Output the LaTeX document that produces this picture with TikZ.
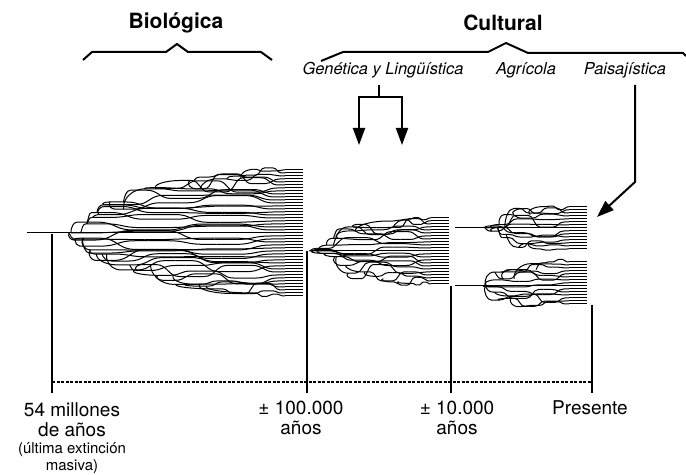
\documentclass[tikz,border=0pt]{standalone}
\usepackage{fontspec}
\setmainfont{TeX Gyre Heros}
\usetikzlibrary{arrows.meta}

% una rama: fila #1 que nace de la fila #2
\newcommand{\ramita}[6]{%
  \pgfmathtruncatemacro{\pp}{#2}
  \pgfmathsetmacro{\dd}{abs(#1-\filc)/\dmx}
  \pgfmathsetmacro{\xst}{#3+(#4-#3)*#6*\dd*\dd+rnd*12}
  \edef\spp{\csname cs\pp\endcsname}
  \edef\ypp{\csname cy\pp\endcsname}
  \pgfmathsetmacro{\xbr}{min(\spp+1+rnd*max(0,\xst-\spp-6),#4-10)}
  \pgfmathsetmacro{\xst}{min(max(\xst,\xbr+5),#4-3)}
  \pgfmathsetmacro{\yi}{#5+#1*\dyf}
  \pgfmathsetmacro{\ls}{max(0,#4-18-\xst)/3}
  \pgfmathsetmacro{\ampx}{min(\amp,0.3*\ls)}
  \pgfmathsetmacro{\yo}{\yi+(2*rnd-1)*\ampx}
  \expandafter\xdef\csname cs#1\endcsname{\xst}
  \expandafter\xdef\csname cy#1\endcsname{\yo}
  \pgfmathsetmacro{\bul}{rnd*9-3}
  \pgfmathsetmacro{\xcu}{\xbr-\bul}
  \pgfmathsetmacro{\xcd}{\xbr+0.4*(\xst-\xbr)}
  \pgfmathsetmacro{\ym}{(\ypp+\yo)/2}
  \draw[rama] (\xbr,\ypp) .. controls (\xcu,\ym) and (\xcd,\yo) .. (\xst,\yo);
  % la linea ondula hasta su fila
  \xdef\ycur{\yo}
  \foreach \j in {1,2,3}{
    \pgfmathsetmacro{\xa}{\xst+(\j-1)*\ls}
    \pgfmathsetmacro{\yb}{ifthenelse(\j<3,\yi+(2*rnd-1)*\ampx,\yi)}
    \draw[rama] (\xa,\ycur) -- ({\xa+0.3*\ls},\ycur) .. controls ({\xa+0.55*\ls},\ycur) and ({\xa+0.55*\ls},\yb) .. ({\xa+0.8*\ls},\yb) -- ({\xa+\ls},\yb);
    \xdef\ycur{\yb}
  }
  \draw[rama] ({max(\xst,#4-18)},\yi) -- (#4,\yi);
}

% un clado: raiz (#1,#2), borde #3, filas de #4 a #5, #6 filas, semilla #7, apertura #8
\newcommand{\clado}[8]{%
  \pgfmathsetseed{#7}
  \pgfmathsetmacro{\dyf}{(#5-#4)/(#6-1)}
  \pgfmathsetmacro{\amp}{2.5*\dyf}
  \pgfmathtruncatemacro{\filc}{round((#2-#4)/\dyf)}
  \pgfmathtruncatemacro{\filu}{\filc-1}
  \pgfmathtruncatemacro{\fild}{\filc+1}
  \pgfmathtruncatemacro{\filn}{#6-1}
  \pgfmathsetmacro{\dmx}{max(\filc,\filn-\filc)}
  \pgfmathsetmacro{\yc}{#4+\filc*\dyf}
  \expandafter\xdef\csname cs\filc\endcsname{#1}
  \expandafter\xdef\csname cy\filc\endcsname{\yc}
  \draw[rama] (#1,\yc) -- (#3,\yc);
  \foreach \i in {\filu,...,0}{\ramita{\i}{min(\i+random(1,3),\filc)}{#1}{#3}{#4}{#8}}
  \foreach \i in {\fild,...,\filn}{\ramita{\i}{max(\i-random(1,3),\filc)}{#1}{#3}{#4}{#8}}
}

\begin{document}
\begin{tikzpicture}[x=0.5pt,y=-0.5pt,
  rama/.style={line width=0.5pt, line join=round},
  vert/.style={line width=0.6pt},
  eje/.style={line width=0.8pt, dash pattern=on 1.5pt off 0.75pt},
  llave/.style={line width=1pt},
  flecha/.style={line width=1pt, -{Triangle[length=8.5pt,width=6pt]}},
  titulo/.style={font=\fontsize{10.5}{12}\selectfont\bfseries},
  grupo/.style={font=\fontsize{8.2}{10}\selectfont\itshape},
  fecha/.style={font=\fontsize{9.5}{10}\selectfont, align=center, inner sep=0pt},
  nota/.style={font=\fontsize{7.5}{8.5}\selectfont, align=center, inner sep=0pt}]
  \useasboundingbox (0,0) rectangle (686,475);

  % titulos y llaves
  \node[titulo] (bio) at (176,23) {Biológica};
  \node[titulo] (cult) at (503,23) {Cultural};
  \draw[llave] (83,60) -- (92,52) -- (166,52) -- (177,44) -- (188,52) -- (261,52) -- (272,60);
  \draw[llave] (321,61) -- (343,52) -- (488,52) -- (506,43) -- (528,53) -- (683,53) -- (686,56);

  % tipos de diversidad cultural
  \node[grupo] (genling) at (383,70) {Genética y Lingüística};
  \node[grupo] (agri) at (526,70) {Agrícola};
  \node[grupo] (paisaj) at (625,70) {Paisajística};

  % flechas
  \coordinate (nudo) at (379,97);
  \coordinate (puntaI) at (359,145);
  \coordinate (puntaD) at (402,145);
  \draw[llave] (nudo |- genling.south) -- (nudo);
  \draw[flecha] (nudo) -| (puntaI);
  \draw[flecha] (nudo) -| (puntaD);
  \coordinate (codo) at (635,182);
  \coordinate (puntaP) at (597,217);
  \draw[flecha] (codo |- paisaj.south) -- (codo) -- (puntaP);

  % arboles
  \draw[rama] (27,233) -- (68,233);
  \clado{68}{233}{303}{170}{296}{43}{11}{0.75}
  \clado{310}{251}{449}{218}{284}{23}{23}{0.65}
  \draw[rama] (455,228) -- (484,228);
  \clado{484}{228}{587}{207}{249}{15}{37}{0.45}
  \draw[rama] (455,286) -- (484,286);
  \clado{484}{286}{587}{262}{304}{15}{41}{0.45}

  % eje del tiempo
  \foreach \nom/\x/\y in {r1/52/234, r2/307/251, r3/451/286, r4/592/305}{
    \coordinate (\nom) at (\x,\y);
    \draw[vert] (\nom) -- (\x,393);
  }
  \coordinate (ejeI) at (52,382);
  \coordinate (ejeD) at (592,382);
  \draw[eje] (ejeI) -- (ejeD);

  \node[fecha] (t54) at (72,420) {54 millones\\de años};
  \node[nota] (t54n) at (72,458.5) {(última extinción\\masiva)};
  \node[fecha] (t100) at (301,418) {± 100.000\\años};
  \node[fecha] (t10) at (457,418) {± 10.000\\años};
  \node[fecha] (tpres) at (590,408) {Presente};
\end{tikzpicture}
\end{document}
